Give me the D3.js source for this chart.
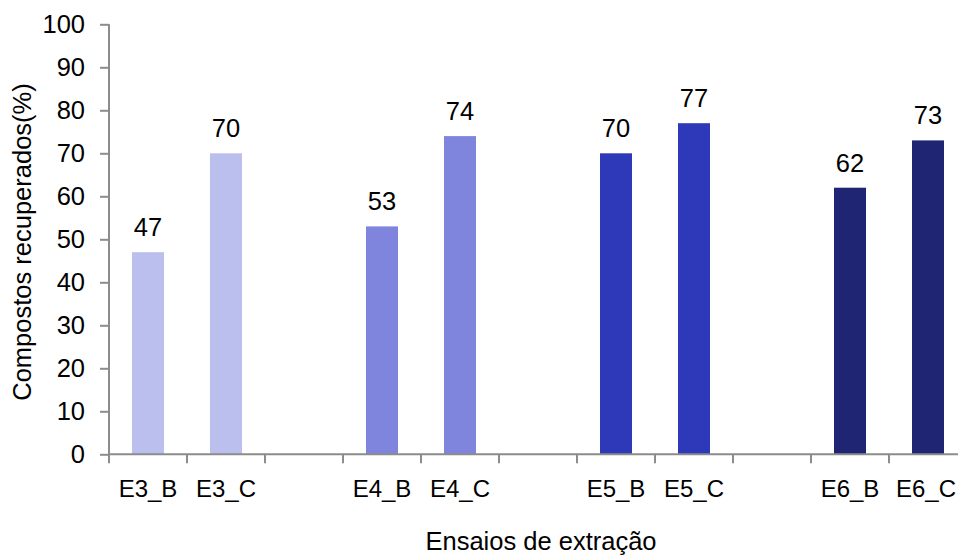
<!DOCTYPE html>
<html>
<head>
<meta charset="utf-8">
<script src="https://cdn.jsdelivr.net/npm/d3@7/dist/d3.min.js"></script>
<style>
  html, body { margin: 0; padding: 0; background: #fff; }
  svg { display: block; font-family: "Liberation Sans", Arial, sans-serif; }
</style>
</head>
<body>
<svg id="chart" width="958" height="555"></svg>
<script>
// Extraction trials, with empty slots separating each group
const slots = ["E3_B", "E3_C", "g1", "E4_B", "E4_C", "g2", "E5_B", "E5_C", "g3", "E6_B", "E6_C"];
const categories = ["E3_B", "E3_C", "E4_B", "E4_C", "E5_B", "E5_C", "E6_B", "E6_C"];
const values = [47, 70, 53, 74, 70, 77, 62, 73];
const groups = ["E3", "E3", "E4", "E4", "E5", "E5", "E6", "E6"];
const groupColors = { E3: "#BBBFEE", E4: "#7F84DD", E5: "#2E39BA", E6: "#1F2473" };
const yTicks = [0, 10, 20, 30, 40, 50, 60, 70, 80, 90, 100];

const svg = d3.select("#chart");
const plotLeft = 109, plotRight = 967, plotTop = 24.3, plotBottom = 454.3;
const fs = 25.5, fsX = 24;

const x = d3.scaleBand().domain(slots).range([plotLeft, plotRight]).paddingInner(0).paddingOuter(0);
const y = d3.scaleLinear().domain([0, 100]).range([plotBottom, plotTop]);
const barW = 32;

// Bars
const data = categories.map((c, i) => ({ cat: c, v: values[i], g: groups[i] }));
svg.append("g").selectAll("rect").data(data).join("rect")
  .attr("x", d => x(d.cat) + x.bandwidth() / 2 - barW / 2)
  .attr("y", d => y(d.v))
  .attr("width", barW)
  .attr("height", d => y(0) - y(d.v))
  .attr("fill", d => groupColors[d.g]);

// Value labels
svg.append("g").selectAll("text").data(data).join("text")
  .attr("x", d => x(d.cat) + x.bandwidth() / 2)
  .attr("y", d => y(d.v) - 16)
  .attr("text-anchor", "middle")
  .attr("font-size", fs)
  .attr("fill", "#000")
  .text(d => d.v);

// Y axis
const yAxis = svg.append("g").attr("transform", `translate(${plotLeft},0)`)
  .call(d3.axisLeft(y).tickValues(yTicks).tickSize(9).tickPadding(15));
yAxis.selectAll("text").attr("font-size", fs).attr("fill", "#000")
  .attr("font-family", "Liberation Sans, Arial, sans-serif");
yAxis.selectAll("line, path").attr("stroke", "#8c8c8c").attr("stroke-width", 2);
yAxis.select("path").attr("d", `M0,${plotBottom}V${plotTop}`);

// X axis: ticks sit on slot boundaries, labels under each trial
const boundaries = d3.range(slots.length + 1).map(i => plotLeft + i * x.step());
const xg = svg.append("g");
xg.append("line").attr("x1", plotLeft).attr("x2", plotRight).attr("y1", plotBottom).attr("y2", plotBottom)
  .attr("stroke", "#8c8c8c").attr("stroke-width", 2);
xg.selectAll("line.tick").data(boundaries.slice(0, -1)).join("line").attr("class", "tick")
  .attr("x1", d => d).attr("x2", d => d).attr("y1", plotBottom).attr("y2", plotBottom + 9)
  .attr("stroke", "#8c8c8c").attr("stroke-width", 2);
xg.selectAll("text").data(categories).join("text")
  .attr("x", d => x(d) + x.bandwidth() / 2 - (d === "E6_C" ? 2 : 0))
  .attr("y", 497)
  .attr("text-anchor", "middle")
  .attr("font-size", fsX)
  .attr("fill", "#000")
  .text(d => d);

// Axis titles
svg.append("text")
  .attr("x", 541)
  .attr("y", 550)
  .attr("text-anchor", "middle")
  .attr("font-size", fs)
  .attr("fill", "#000")
  .text("Ensaios de extração");

svg.append("text")
  .attr("transform", `translate(31,242) rotate(-90)`)
  .attr("text-anchor", "middle")
  .attr("font-size", fs)
  .attr("fill", "#000")
  .text("Compostos recuperados(%)");
</script>
</body>
</html>
